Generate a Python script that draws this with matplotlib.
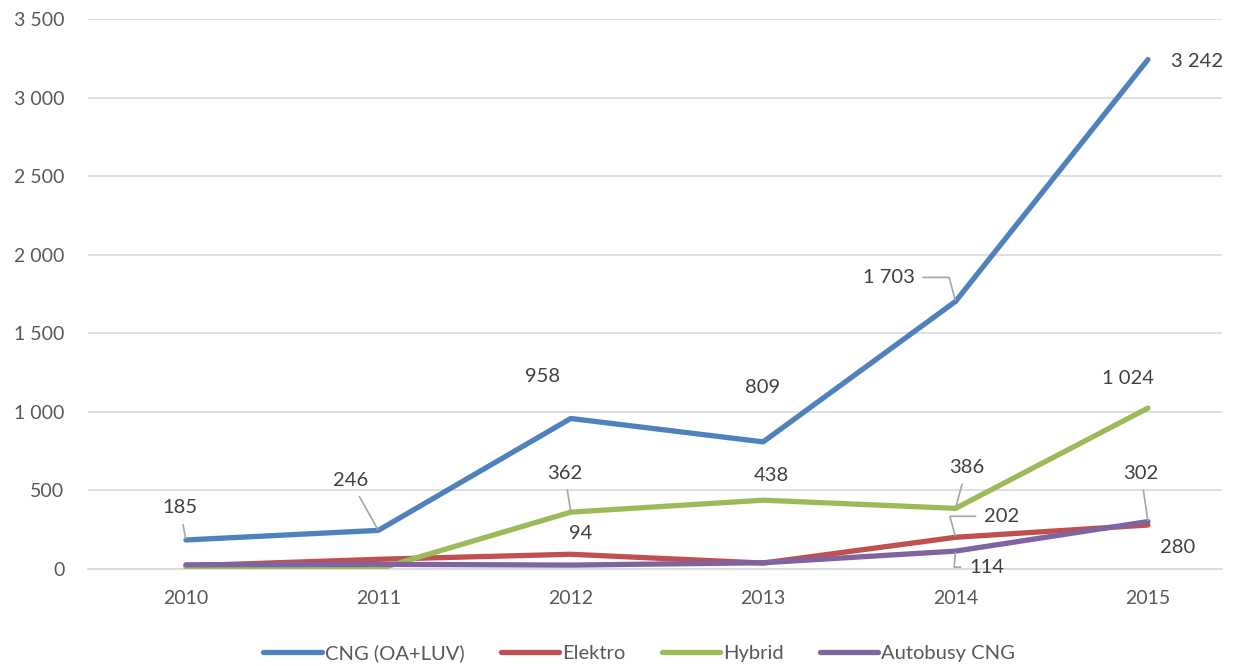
import matplotlib.pyplot as plt
import numpy as np

plt.rcParams['font.family'] = ['Lato', 'DejaVu Sans']

years = ['2010', '2011', '2012', '2013', '2014', '2015']
cng = [185, 246, 958, 809, 1703, 3242]
elektro = [20, 62, 94, 38, 202, 280]
hybrid = [0, 0, 362, 438, 386, 1024]
autobusy = [27, 30, 25, 40, 114, 302]

series_names = ['CNG (OA+LUV)', 'Elektro', 'Hybrid', 'Autobusy CNG']
colors = ['#4F81BD', '#C0504D', '#9BBB59', '#8064A2']

# (series index, point index, offset x px, offset y px, leader style)
labels = [
    (0, 0, -6, 32, 'arc3'),
    (0, 1, -28, 50, 'arc3'),
    (0, 2, -28, 42, None),
    (0, 3, -1, 54, None),
    (0, 4, -67, 24, 'angle,angleA=0,angleB=105,rad=0'),
    (0, 5, 49, -2, None),
    (2, 2, -6, 39, 'arc3'),
    (2, 3, 8, 25, None),
    (2, 4, 11, 41, 'arc3'),
    (2, 5, -20, 30, None),
    (1, 2, 10, 21, None),
    (1, 4, 46, 21, 'angle,angleA=0,angleB=105,rad=0'),
    (1, 5, 30, -22, None),
    (3, 4, 31, -16, 'angle,angleA=0,angleB=-95,rad=0'),
    (3, 5, -7, 48, 'arc3'),
]


def fmt(v):
    return f'{v:,}'.replace(',', ' ')


fig = plt.figure(figsize=(12.34, 6.66), dpi=100)
ax = fig.add_axes([0.0713, 0.1456, 0.9190, 0.8259])

x = np.arange(len(years))
data = [cng, elektro, hybrid, autobusy]
for vals, name, c in zip(data, series_names, colors):
    ax.plot(x, vals, color=c, lw=3.8, label=name, solid_capstyle='round',
            solid_joinstyle='round', zorder=3)

for si, pi, dx, dy, cs in labels:
    v = data[si][pi]
    props = None
    if cs:
        props = dict(arrowstyle='-', color='#A6A6A6', lw=1.2, shrinkA=4, shrinkB=1,
                     connectionstyle=cs)
    ax.annotate(fmt(v), xy=(x[pi], v), xytext=(dx, dy), textcoords='offset pixels',
                ha='center', va='center', fontsize=14.5, color='#404040',
                arrowprops=props, zorder=4)

ax.set_xlim(-0.509, 5.385)
ax.set_ylim(0, 3500)
ax.set_xticks(x)
ax.set_xticklabels(years)
yt = np.arange(0, 3501, 500)
ax.set_yticks(yt)
ax.set_yticklabels([fmt(int(v)) for v in yt])
ax.tick_params(length=0, labelsize=14, colors='#595959')
ax.tick_params(axis='x', pad=15)
ax.tick_params(axis='y', pad=17)
ax.grid(axis='y', color='#D9D9D9', lw=1.2)
ax.set_axisbelow(True)
for s in ['top', 'right', 'left']:
    ax.spines[s].set_visible(False)
ax.spines['bottom'].set_color('#D9D9D9')
ax.spines['bottom'].set_linewidth(1.2)

fig.legend(loc='center', bbox_to_anchor=(0.518, 0.019), ncol=4, frameon=False,
           fontsize=14.5, handlelength=2.9, columnspacing=1.8, handletextpad=0.15,
           labelcolor='#595959')

fig.savefig('out.png', dpi=100)
